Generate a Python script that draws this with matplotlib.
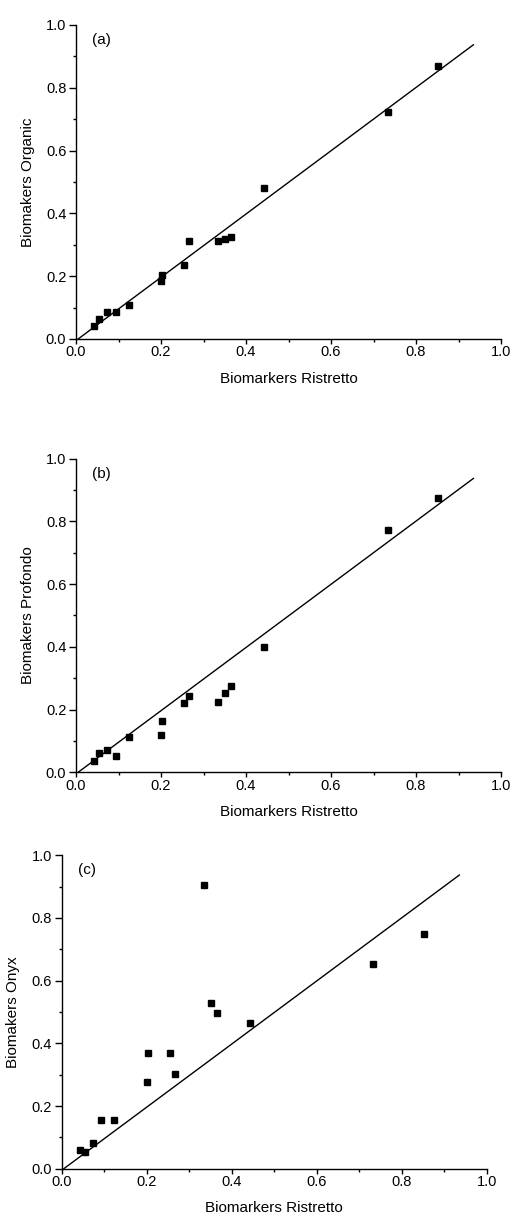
import numpy as np
import matplotlib
matplotlib.use("Agg")
import matplotlib.pyplot as plt
from matplotlib.ticker import MultipleLocator, FormatStrFormatter

plt.rcParams['font.family'] = ['Liberation Sans', 'DejaVu Sans']

# Biomarkers Ristretto (x axis, shared by all panels)
ristretto = [0.042, 0.055, 0.074, 0.093, 0.124, 0.201, 0.203, 0.254, 0.267,
             0.334, 0.351, 0.364, 0.443, 0.733, 0.852]
organic = [0.040, 0.065, 0.087, 0.087, 0.109, 0.186, 0.205, 0.235, 0.313,
           0.313, 0.317, 0.326, 0.482, 0.724, 0.870]
profondo = [0.035, 0.063, 0.071, 0.053, 0.114, 0.120, 0.163, 0.222, 0.243,
            0.224, 0.252, 0.275, 0.400, 0.773, 0.876]
onyx = [0.061, 0.054, 0.082, 0.155, 0.155, 0.277, 0.370, 0.370, 0.302,
        0.905, 0.530, 0.496, 0.464, 0.653, 0.749]

line_x = [0.005, 0.935]
line_y = [0.0, 0.937]

panels = [
    ("(a)", "Biomakers Organic", organic, [76/511, 1 - 339/1217, 425/511, 314/1217]),
    ("(b)", "Biomakers Profondo", profondo, [76/511, 1 - 772.3/1217, 425/511, 313.6/1217]),
    ("(c)", "Biomakers Onyx", onyx, [61.7/511, 1 - 1168.7/1217, 425.3/511, 313.4/1217]),
]

fig = plt.figure(figsize=(5.11, 12.17), dpi=100)

for tag, ylab, yvals, pos in panels:
    ax = fig.add_axes(pos)
    ax.plot(line_x, line_y, color="black", lw=1.0)
    ax.plot(ristretto, yvals, "s", color="black", markersize=4.5, clip_on=False)
    ax.set_xlim(0, 1.0)
    ax.set_ylim(0, 1.0)
    ax.spines["top"].set_visible(False)
    ax.spines["right"].set_visible(False)
    ax.spines["left"].set_linewidth(1.0)
    ax.spines["bottom"].set_linewidth(1.0)
    ax.xaxis.set_major_locator(MultipleLocator(0.2))
    ax.xaxis.set_minor_locator(MultipleLocator(0.1))
    ax.yaxis.set_major_locator(MultipleLocator(0.2))
    ax.yaxis.set_minor_locator(MultipleLocator(0.1))
    ax.tick_params(axis="x", which="major", direction="out", length=3.5, width=1.0,
                   labelsize=10.5, pad=1)
    ax.tick_params(axis="y", which="major", direction="out", length=5, width=1.0,
                   labelsize=10.5, pad=2)
    ax.tick_params(which="minor", direction="out", length=2.5, width=1.0)
    ax.xaxis.set_major_formatter(FormatStrFormatter("%.1f"))
    ax.yaxis.set_major_formatter(FormatStrFormatter("%.1f"))
    ax.set_xlabel("Biomarkers Ristretto", fontsize=11, labelpad=9)
    ax.set_ylabel(ylab, fontsize=11, labelpad=8)
    ax.text(0.038, 0.952, tag, transform=ax.transAxes, fontsize=11,
            ha="left", va="center")

fig.savefig("out.png", dpi=100)
